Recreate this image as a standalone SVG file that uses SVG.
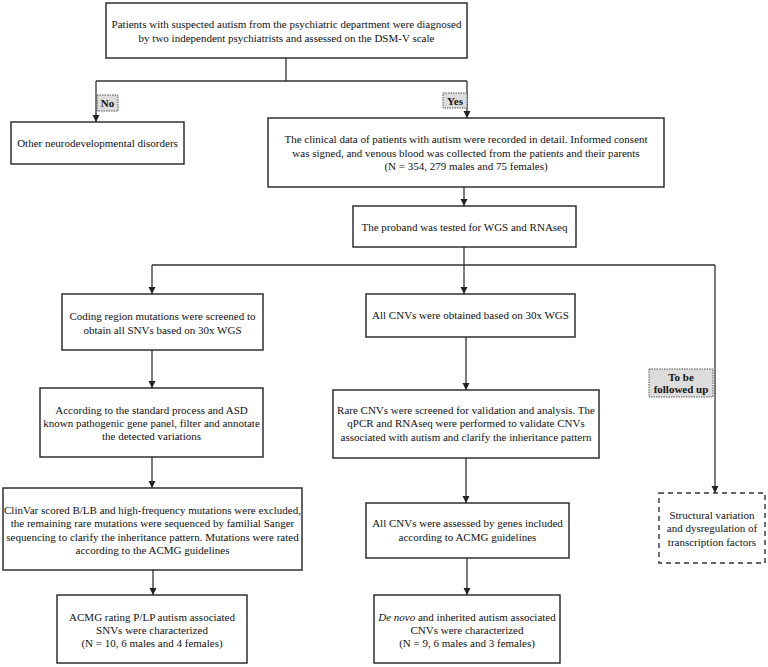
<svg xmlns="http://www.w3.org/2000/svg" width="768" height="667" viewBox="0 0 768 667">
<defs>
<style>
.box{fill:#fff;stroke:#222;stroke-width:1.4}
.dash{fill:#fff;stroke:#333;stroke-width:1.4;stroke-dasharray:5 4}
.lbl{fill:#dcdcdc;stroke:#555;stroke-width:1;stroke-dasharray:1.5 1}
.ln{fill:none;stroke:#333;stroke-width:1.3}
text{font-family:"Liberation Serif","Times New Roman",serif;font-size:11px;fill:#111;text-anchor:middle}
.b{font-weight:bold}
</style>
<marker id="ah" markerUnits="userSpaceOnUse" markerWidth="8" markerHeight="8" refX="7" refY="3.5" orient="auto">
<path d="M0,0 L7,3.5 L0,7 z" fill="#222"/>
</marker>
</defs>
<rect width="768" height="667" fill="#fff"/>
<g id="connectors">
<path class="ln" d="M286 58 V81 M96 81 H467"/>
<path class="ln" d="M96 81 V122" marker-end="url(#ah)"/>
<path class="ln" d="M467 81 V118" marker-end="url(#ah)"/>
<path class="ln" d="M464 187 V206" marker-end="url(#ah)"/>
<path class="ln" d="M464 247 V265 M152 265 H715"/>
<path class="ln" d="M152 265 V294" marker-end="url(#ah)"/>
<path class="ln" d="M464 265 V294" marker-end="url(#ah)"/>
<path class="ln" d="M715 265 V493" marker-end="url(#ah)"/>
<path class="ln" d="M152 350 V388" marker-end="url(#ah)"/>
<path class="ln" d="M152 457 V488" marker-end="url(#ah)"/>
<path class="ln" d="M153 570 V595" marker-end="url(#ah)"/>
<path class="ln" d="M466 337 V390" marker-end="url(#ah)"/>
<path class="ln" d="M466 458 V503" marker-end="url(#ah)"/>
<path class="ln" d="M467 558 V595" marker-end="url(#ah)"/>
</g>
<g id="label-no">
<rect class="lbl" x="97" y="95" width="21" height="16"/>
<text class="b" x="107.5" y="107">No</text>
</g>
<g id="label-yes">
<rect class="lbl" x="443" y="93" width="24" height="15"/>
<text class="b" x="455" y="104.5">Yes</text>
</g>
<g id="label-followup">
<rect class="lbl" x="649" y="369" width="64" height="28"/>
<text class="b" x="681" y="381">To be</text>
<text class="b" x="681" y="393">followed up</text>
</g>
<g id="n-top">
<rect class="box" x="106" y="3" width="361" height="55"/>
<text x="286.5" y="28">Patients with suspected autism from the psychiatric department were diagnosed</text>
<text x="286.5" y="42">by two independent psychiatrists and assessed on the DSM-V scale</text>
</g>
<g id="n-other">
<rect class="box" x="11" y="122" width="173" height="42"/>
<text x="97.5" y="147">Other neurodevelopmental disorders</text>
</g>
<g id="n-clinical">
<rect class="box" x="268" y="118" width="396" height="69"/>
<text x="466" y="143">The clinical data of patients with autism were recorded in detail. Informed consent</text>
<text x="466" y="157">was signed, and venous blood was collected from the patients and their parents</text>
<text x="466" y="170">(N = 354, 279 males and 75 females)</text>
</g>
<g id="n-proband">
<rect class="box" x="353" y="206" width="223" height="41"/>
<text x="464.5" y="231">The proband was tested for WGS and RNAseq</text>
</g>
<g id="n-coding">
<rect class="box" x="62" y="294" width="201" height="56"/>
<text x="162.5" y="320">Coding region mutations were screened to</text>
<text x="162.5" y="334">obtain all SNVs based on 30x WGS</text>
</g>
<g id="n-cnv">
<rect class="box" x="366" y="294" width="209" height="43"/>
<text x="470.5" y="319">All CNVs were obtained based on 30x WGS</text>
</g>
<g id="n-according">
<rect class="box" x="40" y="388" width="223" height="69"/>
<text x="151.5" y="414">According to the standard process and ASD</text>
<text x="151.5" y="427">known pathogenic gene panel, filter and annotate</text>
<text x="151.5" y="440">the detected variations</text>
</g>
<g id="n-rare">
<rect class="box" x="333" y="390" width="266" height="68"/>
<text x="466" y="414">Rare CNVs were screened for validation and analysis. The</text>
<text x="466" y="427">qPCR and RNAseq were performed to validate CNVs</text>
<text x="466" y="441">associated with autism and clarify the inheritance pattern</text>
</g>
<g id="n-clinvar">
<rect class="box" x="3" y="488" width="299" height="82"/>
<text x="152.5" y="514">ClinVar scored B/LB and high-frequency mutations were excluded,</text>
<text x="152.5" y="527">the remaining rare mutations were sequenced by familial Sanger</text>
<text x="152.5" y="541">sequencing to clarify the inheritance pattern. Mutations were rated</text>
<text x="152.5" y="554">according to the ACMG guidelines</text>
</g>
<g id="n-assessed">
<rect class="box" x="366" y="503" width="203" height="55"/>
<text x="467.5" y="527">All CNVs were assessed by genes included</text>
<text x="467.5" y="541">according to ACMG guidelines</text>
</g>
<g id="n-acmg">
<rect class="box" x="57" y="595" width="190" height="68"/>
<text x="152" y="621">ACMG rating P/LP autism associated</text>
<text x="152" y="634">SNVs were characterized</text>
<text x="152" y="647">(N = 10, 6 males and 4 females)</text>
</g>
<g id="n-denovo">
<rect class="box" x="374" y="595" width="186" height="68"/>
<text x="467" y="621"><tspan font-style="italic">De novo</tspan> and inherited autism associated</text>
<text x="467" y="634">CNVs were characterized</text>
<text x="467" y="647">(N = 9, 6 males and 3 females)</text>
</g>
<g id="n-structural">
<rect class="dash" x="659" y="493" width="106" height="70"/>
<text x="712" y="519">Structural variation</text>
<text x="712" y="532">and dysregulation of</text>
<text x="712" y="546">transcription factors</text>
</g>
</svg>
